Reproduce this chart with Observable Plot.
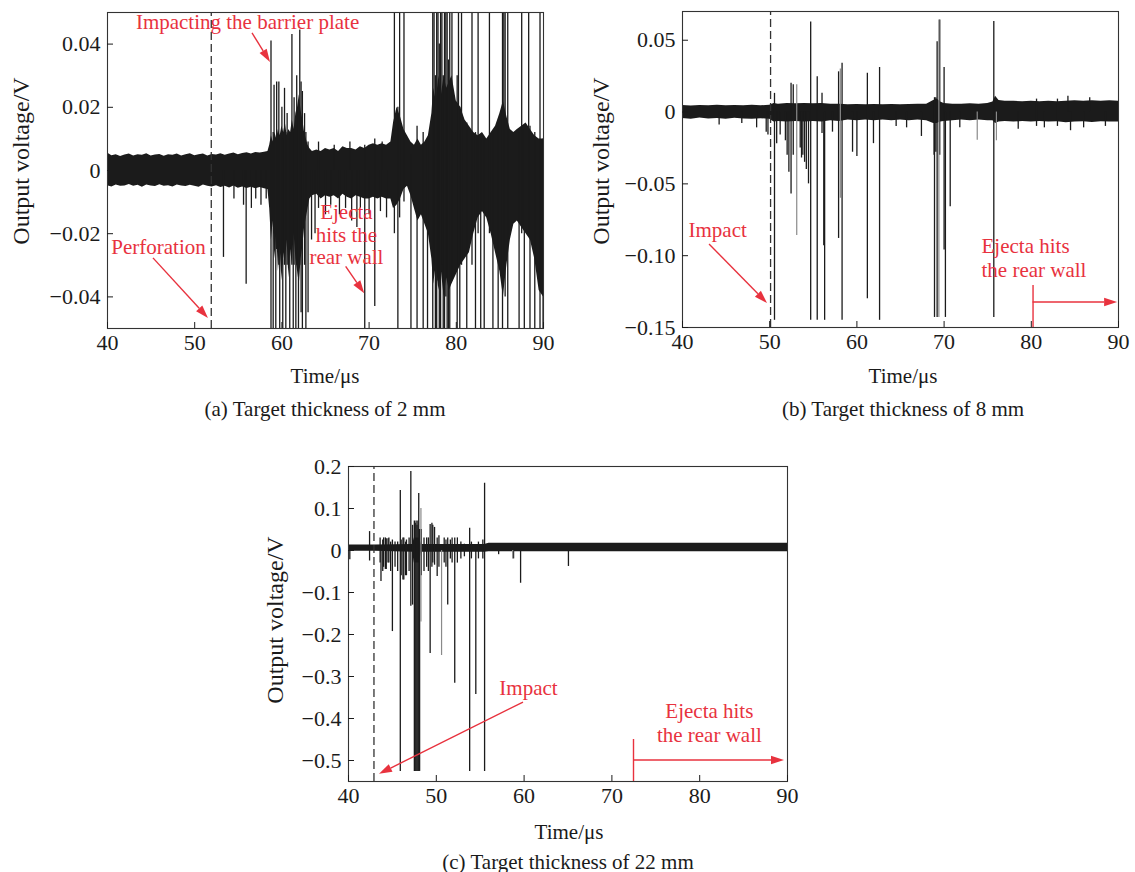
<!DOCTYPE html>
<html><head><meta charset="utf-8">
<script src="https://cdn.jsdelivr.net/npm/d3@7"></script>
<script src="https://cdn.jsdelivr.net/npm/@observablehq/plot@0.6"></script>
<style>
body{margin:0;background:#fff;width:1135px;height:872px;position:relative;overflow:hidden;font-family:"Liberation Serif","Times New Roman",serif;color:#1a1a1a;}
.panel{position:absolute;}
.lbl{position:absolute;font-size:21px;white-space:nowrap;transform:translate(-50%,-50%);line-height:1;}
.ylbl{font-size:24px;transform:translate(-50%,-50%) rotate(-90deg);}
</style></head><body>
<script>
// ---------------- Panel (a): target thickness 2 mm ----------------
const aBandT  = [40,40.5,41,41.5,42,42.5,43,43.5,44,44.5,45,45.5,46,46.5,47,47.5,48,48.5,49,49.5,50,50.5,51,51.5,52,52.5,53,53.5,54,54.5,55,55.5,56,56.5,57,57.5,58,58.4,
  58.6,58.8,59,59.2,59.4,59.6,59.8,60,60.2,60.4,60.6,60.8,61,61.2,61.4,61.6,61.8,62,62.2,62.4,62.6,62.8,63,63.2,
  63.5,64,64.5,65,65.5,66,66.5,67,67.5,68,68.5,69,69.5,70,70.5,71,71.5,72,72.5,
  72.8,73.2,73.6,74,74.4,74.8,75.2,75.6,76,76.4,76.8,77.2,77.4,77.7,78,78.3,78.6,78.9,79.2,79.5,80,80.5,81,81.5,82,82.5,83,83.5,84,84.5,85,85.4,85.8,86.2,86.6,87,87.5,88,88.5,89,89.5,90];
const aBandLo = [-0.0048,-0.0052,-0.0046,-0.005,-0.0049,-0.0044,-0.005,-0.0047,-0.0053,-0.0046,-0.0049,-0.0051,-0.0045,-0.005,-0.0048,-0.0052,-0.0046,-0.0049,-0.0051,-0.0047,-0.005,-0.0053,-0.0046,-0.005,-0.0052,-0.0048,-0.0054,-0.005,-0.0055,-0.0049,-0.0056,-0.0052,-0.0057,-0.0053,-0.0058,-0.0054,-0.0058,-0.006,
  -0.012,-0.022,-0.016,-0.028,-0.02,-0.032,-0.024,-0.035,-0.026,-0.03,-0.022,-0.034,-0.025,-0.03,-0.02,-0.028,-0.032,-0.036,-0.028,-0.024,-0.018,-0.015,-0.012,-0.009,
  -0.008,-0.0075,-0.009,-0.008,-0.0085,-0.008,-0.009,-0.0075,-0.0085,-0.009,-0.008,-0.0085,-0.009,-0.009,-0.0085,-0.009,-0.0085,-0.009,-0.009,
  -0.012,-0.011,-0.009,-0.006,-0.005,-0.008,-0.012,-0.016,-0.014,-0.017,-0.02,-0.028,-0.036,-0.03,-0.038,-0.032,-0.04,-0.034,-0.038,-0.036,-0.033,-0.03,-0.028,-0.026,-0.02,-0.015,-0.013,-0.015,-0.02,-0.026,-0.032,-0.04,-0.03,-0.022,-0.017,-0.016,-0.018,-0.02,-0.022,-0.028,-0.038,-0.04];
const aBandHi = [0.0055,0.0047,0.005,0.0044,0.0049,0.0052,0.0046,0.005,0.0048,0.0053,0.0046,0.0049,0.0051,0.0045,0.005,0.0048,0.0052,0.0046,0.005,0.0053,0.0047,0.005,0.0052,0.0046,0.0051,0.0049,0.0053,0.0048,0.0052,0.0055,0.005,0.0054,0.0056,0.0052,0.0057,0.0055,0.0058,0.006,
  0.008,0.011,0.009,0.012,0.01,0.013,0.011,0.014,0.012,0.015,0.011,0.013,0.012,0.016,0.013,0.018,0.02,0.024,0.019,0.016,0.012,0.01,0.008,0.007,
  0.006,0.0065,0.006,0.007,0.0065,0.007,0.006,0.0075,0.007,0.007,0.0065,0.0075,0.007,0.008,0.0085,0.008,0.0085,0.008,0.009,
  0.015,0.02,0.017,0.013,0.011,0.009,0.008,0.01,0.008,0.009,0.011,0.018,0.026,0.022,0.03,0.024,0.03,0.026,0.028,0.03,0.022,0.02,0.016,0.014,0.012,0.011,0.012,0.01,0.012,0.014,0.018,0.022,0.017,0.013,0.012,0.013,0.014,0.015,0.013,0.011,0.01,0.01];
const aSpikeT  = [53.3,54.5,55.6,55.9,56.5,57,57.6,58.2,
  58.75,59,59.1,59.3,59.4,59.65,59.75,60,60.1,60.3,60.45,60.6,60.9,61.15,61.3,61.4,61.6,61.7,61.9,62.05,62.2,62.35,62.6,62.75,63,
  63.4,63.8,64.2,65,65.6,66,66.6,67.3,67.8,68,68.6,69,69.5,70,70.65,71.3,71.5,72,
  72.9,73.3,73.5,74,74.8,75.5,76.2,76.7,77.3,77.45,77.6,77.75,77.9,78.05,78.2,78.35,78.5,78.65,78.8,78.95,79.1,79.25,79.5,80.1,80.25,80.4,80.6,81.2,81.8,82.2,82.5,82.8,83.2,83.8,84.2,84.8,85.3,85.45,85.6,85.9,87.2,87.5,87.8,88.3,88.45,89,89.6,89.95];
const aSpikeLo = [-0.0275,-0.009,-0.011,-0.036,-0.012,-0.009,-0.011,-0.009,
  -0.05,-0.05,-0.02,-0.05,-0.025,-0.03,-0.05,-0.03,-0.05,-0.03,-0.05,-0.03,-0.05,-0.03,-0.05,-0.03,-0.05,-0.03,-0.05,-0.03,-0.045,-0.05,-0.03,-0.05,-0.045,
  -0.022,-0.02,-0.012,-0.014,-0.011,0,-0.014,-0.012,0,-0.016,-0.018,-0.012,-0.05,-0.014,-0.043,-0.013,0,-0.015,
  -0.02,-0.05,-0.015,-0.01,-0.05,-0.05,-0.05,-0.05,-0.05,-0.03,-0.05,-0.05,-0.035,-0.05,-0.05,-0.03,-0.05,-0.05,-0.04,-0.05,-0.05,-0.05,-0.035,-0.05,-0.03,-0.05,-0.03,-0.05,-0.03,-0.05,-0.02,-0.05,-0.05,-0.02,-0.05,-0.05,-0.05,-0.03,-0.04,-0.05,-0.05,-0.02,-0.05,-0.02,-0.05,-0.05,-0.05,-0.05];
const aSpikeHi = [0,0,0,0,0,0,0,0,
  0.041,0.012,0.027,0.01,0.028,0.028,0.01,0.02,0.01,0.026,0.012,0.018,0.012,0.043,0.012,0.023,0.014,0.03,0.02,0.0445,0.028,0.025,0.018,0.012,0.009,
  0,0,0.009,0,0,0.008,0,0,0.009,0,0,0,0.008,0,0.01,0,0.009,0,
  0.05,0.02,0.05,0.05,0.005,0.014,0.012,0.01,0.05,0.05,0.03,0.05,0.05,0.04,0.05,0.05,0.03,0.05,0.05,0.05,0.035,0.05,0.05,0.03,0.05,0.02,0.05,0.015,0.05,0.012,0.05,0.01,0.01,0.05,0.012,0.015,0.05,0.05,0.05,0.05,0.012,0.05,0.013,0.05,0.014,0.012,0.05,0.01];
const aDashT = [51.9];
const aNoteText = ["Impacting the barrier plate","Perforation","Ejecta","hits the","rear wall"];
const aNoteT = [56.06,45.85,67.4,67.4,67.4];
const aNoteV = [0.0468,-0.0244,-0.0133,-0.0204,-0.0275];
const aArrowT1 = [56.63,45.27,67.37];
const aArrowV1 = [0.0434,-0.0278,-0.0305];
const aArrowT2 = [58.69,51.58,69.5];
const aArrowV2 = [0.0342,-0.0468,-0.039];
const aYTicks = [-0.04,-0.02,0,0.02,0.04];

// ---------------- Panel (b): target thickness 8 mm ----------------
const bBandT  = [40,41,42,43,44,45,46,47,48,49,50,50.5,51,52,53,54,55,56,57,58,59,60,61,62,63,64,65,66,67,68,68.8,69.2,69.6,70,71,72,73,74,75,75.6,75.9,76.3,77,78,79,80,81,82,83,84,85,86,87,88,89,90];
const bBandLo = [-0.0045,-0.005,-0.0042,-0.0048,-0.0045,-0.005,-0.0044,-0.0048,-0.005,-0.0046,-0.005,-0.007,-0.0065,-0.007,-0.0065,-0.007,-0.0065,-0.007,-0.006,-0.0065,-0.0055,-0.006,-0.0055,-0.006,-0.0055,-0.006,-0.0055,-0.006,-0.0055,-0.006,-0.008,-0.008,-0.007,-0.0065,-0.006,-0.0055,-0.006,-0.0055,-0.006,-0.006,-0.008,-0.007,-0.0065,-0.007,-0.0065,-0.007,-0.0065,-0.007,-0.0068,-0.0075,-0.007,-0.0068,-0.0072,-0.0068,-0.007,-0.007];
const bBandHi = [0.0045,0.0042,0.0046,0.0044,0.0048,0.0044,0.0046,0.0043,0.0047,0.0044,0.0047,0.006,0.0055,0.006,0.0058,0.006,0.0058,0.006,0.0055,0.0055,0.005,0.0052,0.005,0.0052,0.005,0.0052,0.005,0.0052,0.0055,0.0055,0.008,0.009,0.007,0.006,0.0055,0.0055,0.0058,0.0055,0.006,0.007,0.011,0.008,0.0075,0.0075,0.0072,0.0075,0.0072,0.0075,0.0072,0.0075,0.0078,0.0075,0.0078,0.0075,0.0078,0.0075];
const bSpikeT  = [44.2,46.8,48.5,49.6,49.8,50.55,50.8,51.2,51.8,52,52.2,52.45,52.7,53.5,53.65,53.8,54,54.2,54.45,54.7,55.45,56,56.2,56.3,57.2,57.9,58.3,59.5,60,61.2,61.9,62.6,64.5,65.7,67.4,68.85,68.9,69.05,69.2,69.5,70,70.15,70.7,71.8,75.7,78.5,80.6,81.5,83.0,84.2,84.5,86,86.7,88.5];
const bSpikeLo = [-0.009,-0.008,-0.011,-0.014,-0.016,-0.145,-0.022,-0.016,-0.02,-0.03,-0.042,-0.057,-0.03,-0.025,-0.032,-0.03,-0.035,-0.04,-0.05,-0.145,-0.145,-0.015,-0.093,-0.145,-0.014,-0.088,-0.145,-0.028,-0.031,-0.13,-0.022,-0.145,-0.01,-0.011,-0.017,-0.03,-0.143,-0.028,-0.143,-0.03,-0.096,-0.143,-0.066,-0.011,-0.143,-0.012,-0.01,-0.011,-0.01,0,-0.013,-0.011,0,-0.01];
const bSpikeHi = [0,0,0,0,0,0.013,0,0,0,0,0,0.02,0.019,0,0,0,0,0,0,0.0627,0.0245,0.013,0,0,0,0.028,0.034,0,0,0.027,0,0.031,0,0,0,0.008,0.01,0.01,0.049,0.064,0.031,0,0,0,0.063,0,0.009,0,0.009,0.011,0,0,0.01,0];
const bFaintT  = [53.1,58.1,69.4,73.8,76.0];
const bFaintLo = [-0.086,-0.06,-0.143,-0.0197,-0.02];
const bFaintHi = [0.019,0.03,0.064,0,0];
const bDashT = [50.1];
const bNoteText = ["Impact","Ejecta hits","the rear wall"];
const bNoteT = [40.69,74.29,74.29];
const bNoteV = [-0.0824,-0.0936,-0.1103];
const bArrowT1 = [43.1,80.2];
const bArrowV1 = [-0.0922,-0.1326];
const bArrowT2 = [49.75,89.9];
const bArrowV2 = [-0.1333,-0.1326];
const bBarT = [80.2], bBarV1 = [-0.1208], bBarV2 = [-0.15];
const bYTicks = [-0.15,-0.1,-0.05,0,0.05];

// ---------------- Panel (c): target thickness 22 mm ----------------
const cBandT  = [40,43,47.3,47.5,48.1,48.3,55.5,56,90];
const cBandLo = [-0.002,-0.002,-0.004,-0.03,-0.03,-0.004,-0.004,-0.003,-0.003];
const cBandHi = [0.013,0.013,0.014,0.03,0.03,0.014,0.014,0.017,0.017];
const cSpikeT  = [40.15,42.4,43.6,43.7,43.9,44,44.2,44.3,44.5,44.6,44.8,45,45.3,45.6,45.9,46,46.2,46.3,46.5,46.6,46.9,47.1,47.3,
  47.5,47.6,47.7,47.8,47.9,48,48.1,48.3,48.6,48.9,49.1,49.3,49.5,49.6,49.8,50.1,50.3,50.9,51.1,51.3,51.6,51.8,52.1,52.4,52.8,53.2,53.8,54,54.5,54.8,55.3,55.5,57.1,58.8,59.6,65.05];
const cSpikeLo = [-0.022,-0.025,-0.03,-0.074,-0.05,-0.04,-0.045,-0.045,-0.03,-0.03,-0.05,-0.193,-0.04,-0.05,-0.526,-0.06,-0.07,-0.07,-0.06,-0.06,-0.05,-0.133,-0.13,
  -0.526,-0.526,-0.526,-0.526,-0.526,-0.526,-0.526,-0.06,-0.05,-0.04,-0.05,-0.245,-0.04,-0.03,-0.035,-0.062,-0.04,-0.03,-0.04,-0.13,-0.02,-0.03,-0.316,-0.03,-0.02,-0.015,-0.526,-0.02,-0.343,-0.02,-0.02,-0.526,-0.01,-0.02,-0.078,-0.038];
const cSpikeHi = [0,0.045,0.03,0,0.025,0.03,0.03,0.028,0.028,0.03,0.02,0.025,0.02,0.02,0.143,0.025,0.03,0.03,0.02,0.025,0.03,0.188,0.06,
  0.07,0.065,0.07,0.06,0.07,0.136,0.05,0.05,0.03,0.03,0.03,0.062,0.065,0.06,0.055,0.03,0.035,0.03,0.025,0.03,0.025,0.03,0.03,0.03,0.02,0.015,0.053,0.02,0.012,0.02,0.025,0.16,0,0,0,0];
const cFaintT  = [48.25,50.6,58.7];
const cFaintLo = [-0.17,-0.25,-0.02];
const cFaintHi = [0.1,0,0];
const cDashT = [42.9];
const cNoteText = ["Impact","Ejecta hits","the rear wall"];
const cNoteT = [60.5,81.1,81.1];
const cNoteV = [-0.3286,-0.383,-0.4405];
const cArrowT1 = [59.93,72.46];
const cArrowV1 = [-0.362,-0.5];
const cArrowT2 = [43.53,89.66];
const cArrowV2 = [-0.533,-0.5];
const cBarT = [72.46], cBarV1 = [-0.45], cBarV2 = [-0.55];
const cYTicks = [-0.5,-0.4,-0.3,-0.2,-0.1,0,0.1,0.2];

const xTicks = [40,50,60,70,80,90];
const captions = ["(a) Target thickness of 2 mm","(b) Target thickness of 8 mm","(c) Target thickness of 22 mm"];
const xTitle = "Time/\u03bcs";
const yTitle = "Output voltage/V";

// ---------------- drawing ----------------
const RED = "#e8323e";
const INK = "#1b1b1b";
const idx = a => a.map((_, i) => i);

function arrowsMark(T1, V1, T2, V2) {
  return (index, scales) => {
    const g = d3.create("svg:g");
    T1.forEach((_, i) => {
      const x1 = scales.x(T1[i]), y1 = scales.y(V1[i]), x2 = scales.x(T2[i]), y2 = scales.y(V2[i]);
      const ang = Math.atan2(y2 - y1, x2 - x1), L = 13, W = 4.2;
      const bx = x2 - L * Math.cos(ang), by = y2 - L * Math.sin(ang);
      g.append("line").attr("x1", x1).attr("y1", y1).attr("x2", bx).attr("y2", by)
        .attr("stroke", RED).attr("stroke-width", 1.4);
      g.append("path").attr("fill", RED)
        .attr("d", `M${x2},${y2}L${bx - W * Math.sin(ang)},${by + W * Math.cos(ang)}L${bx + W * Math.sin(ang)},${by - W * Math.cos(ang)}Z`);
    });
    return g.node();
  };
}

function fmt(dec) {
  return d => Math.abs(d) < 1e-12 ? "0" : d3.format(`.${dec}f`)(d);
}

function makePanel(o) {
  const marks = [
    Plot.areaY(idx(o.bandT), {x: i => o.bandT[i], y1: i => o.bandLo[i], y2: i => o.bandHi[i], fill: INK, clip: true}),
    Plot.ruleX(idx(o.spikeT), {x: i => o.spikeT[i], y1: i => o.spikeLo[i], y2: i => o.spikeHi[i], stroke: INK, strokeWidth: 1.3, clip: true})
  ];
  if (o.faintT) marks.push(Plot.ruleX(idx(o.faintT), {x: i => o.faintT[i], y1: i => o.faintLo[i], y2: i => o.faintHi[i], stroke: "#8a8a8a", strokeWidth: 1.2, clip: true}));
  marks.push(Plot.ruleX(o.dashT, {x: d => d, y1: o.yDomain[0], y2: o.yDomain[1], stroke: "#333", strokeWidth: 1.3, strokeDasharray: "8,4"}));
  if (o.barT) marks.push(Plot.ruleX(idx(o.barT), {x: i => o.barT[i], y1: i => o.barV1[i], y2: i => o.barV2[i], stroke: RED, strokeWidth: 1.4}));
  marks.push(arrowsMark(o.arT1, o.arV1, o.arT2, o.arV2));
  marks.push(Plot.text(idx(o.noteText), {x: i => o.noteT[i], y: i => o.noteV[i], text: i => o.noteText[i], fill: RED, fontSize: o.noteSize, textAnchor: o.noteAnchor, lineAnchor: "middle"}));
  marks.push(Plot.frame({stroke: "#333", strokeWidth: 1.1}));
  marks.push(Plot.axisX({ticks: xTicks, tickSize: -6, tickPadding: 12, tickFormat: d => d, label: null, fontSize: 22}));
  marks.push(Plot.axisY({ticks: o.yTicks, tickSize: -6, tickPadding: 13, tickFormat: fmt(o.dec), label: null, fontSize: 22}));
  const svg = Plot.plot({
    width: o.width, height: o.height,
    marginLeft: o.ml, marginRight: o.mr, marginTop: o.mt, marginBottom: o.mb,
    x: {domain: [40, 90]},
    y: {domain: o.yDomain},
    style: {fontFamily: "Liberation Serif, Times New Roman, serif", fontSize: "22px", color: INK, background: "transparent", overflow: "visible"},
    marks
  });
  const div = document.createElement("div");
  div.className = "panel";
  div.style.left = o.left + "px"; div.style.top = o.top + "px";
  div.appendChild(svg);
  document.body.appendChild(div);
  const addLbl = (text, x, y, cls) => {
    const d = document.createElement("div");
    d.className = "lbl" + (cls ? " " + cls : "");
    d.textContent = text; d.style.left = x + "px"; d.style.top = y + "px";
    document.body.appendChild(d);
  };
  addLbl(yTitle, o.yl[0], o.yl[1], "ylbl");
  addLbl(xTitle, o.xl[0], o.xl[1]);
  addLbl(o.caption, o.cap[0], o.cap[1]);
}

makePanel({left: 0, top: 0, width: 560, height: 390, ml: 107, mr: 17, mt: 12, mb: 62,
  yDomain: [-0.05, 0.05], yTicks: aYTicks, dec: 2,
  bandT: aBandT, bandLo: aBandLo, bandHi: aBandHi, spikeT: aSpikeT, spikeLo: aSpikeLo, spikeHi: aSpikeHi,
  dashT: aDashT, noteText: aNoteText, noteT: aNoteT, noteV: aNoteV, noteAnchor: "middle", noteSize: 21,
  arT1: aArrowT1, arV1: aArrowV1, arT2: aArrowT2, arV2: aArrowV2,
  yl: [21, 161], xl: [325, 376], cap: [325, 409], caption: captions[0]});

makePanel({left: 575, top: 0, width: 560, height: 390, ml: 107, mr: 17, mt: 11, mb: 63,
  yDomain: [-0.15, 0.07], yTicks: bYTicks, dec: 2,
  bandT: bBandT, bandLo: bBandLo, bandHi: bBandHi, spikeT: bSpikeT, spikeLo: bSpikeLo, spikeHi: bSpikeHi,
  faintT: bFaintT, faintLo: bFaintLo, faintHi: bFaintHi,
  dashT: bDashT, noteText: bNoteText, noteT: bNoteT, noteV: bNoteV, noteAnchor: "start", noteSize: 21,
  barT: bBarT, barV1: bBarV1, barV2: bBarV2,
  arT1: bArrowT1, arV1: bArrowV1, arT2: bArrowT2, arV2: bArrowV2,
  yl: [601, 161], xl: [903, 376], cap: [903, 409], caption: captions[1]});

makePanel({left: 240, top: 450, width: 560, height: 380, ml: 108, mr: 13, mt: 16, mb: 49,
  yDomain: [-0.55, 0.2], yTicks: cYTicks, dec: 1,
  bandT: cBandT, bandLo: cBandLo, bandHi: cBandHi, spikeT: cSpikeT, spikeLo: cSpikeLo, spikeHi: cSpikeHi,
  faintT: cFaintT, faintLo: cFaintLo, faintHi: cFaintHi,
  dashT: cDashT, noteText: cNoteText, noteT: cNoteT, noteV: cNoteV, noteAnchor: "middle", noteSize: 21,
  barT: cBarT, barV1: cBarV1, barV2: cBarV2,
  arT1: cArrowT1, arV1: cArrowV1, arT2: cArrowT2, arV2: cArrowV2,
  yl: [275, 620], xl: [569, 832], cap: [568, 862], caption: captions[2]});
</script>
</body></html>
